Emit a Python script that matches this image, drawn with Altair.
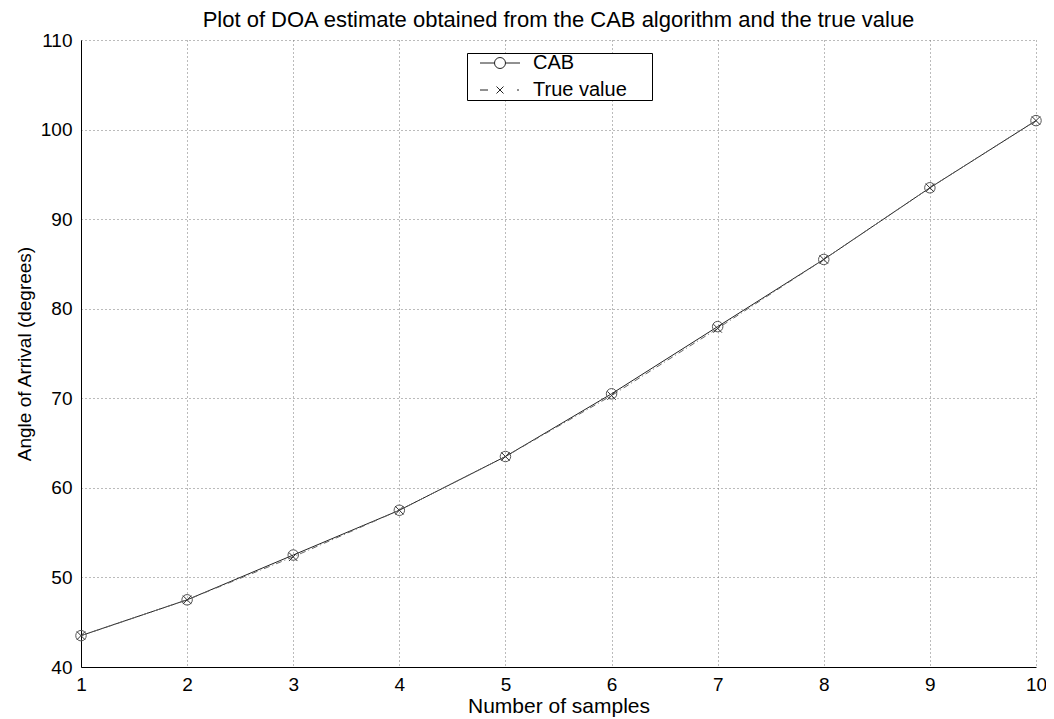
import altair as alt
import pandas as pd

samples = [1, 2, 3, 4, 5, 6, 7, 8, 9, 10]
cab = [43.5, 47.5, 52.5, 57.5, 63.5, 70.5, 78.0, 85.5, 93.5, 101.0]
true_value = [43.5, 47.5, 52.3, 57.5, 63.5, 70.3, 77.8, 85.5, 93.5, 101.0]
series_names = ["CAB", "True value"]
y_ticks = [40, 50, 60, 70, 80, 90, 100, 110]

df = pd.DataFrame({
    "x": samples * 2,
    "y": cab + true_value,
    "series": [series_names[0]] * len(samples) + [series_names[1]] * len(samples),
})

FONT = "Liberation Sans"

x_enc = alt.X("x:Q", scale=alt.Scale(domain=[1, 10], nice=False, zero=False),
              axis=alt.Axis(values=samples, title="Number of samples", format="d",
                            labelFlush=False))
y_enc = alt.Y("y:Q", scale=alt.Scale(domain=[40, 110], nice=False, zero=False),
              axis=alt.Axis(values=y_ticks, title="Angle of Arrival (degrees)", format="d",
                            labelFlush=False))

base = alt.Chart(df).encode(x=x_enc, y=y_enc)

cab_line = base.transform_filter(alt.datum.series == "CAB").mark_line(
    color="#222222", strokeWidth=1)
true_line = base.transform_filter(alt.datum.series == "True value").mark_line(
    color="#666666", strokeWidth=1, strokeDash=[6, 3, 1, 3])
cab_pts = base.transform_filter(alt.datum.series == "CAB").mark_point(
    shape="circle", size=110, color="#555555", filled=False, strokeWidth=1, opacity=1)
true_pts = base.transform_filter(alt.datum.series == "True value").mark_point(
    shape="M-1,-1L1,1M-1,1L1,-1", size=72, color="#333333", filled=False, strokeWidth=1, opacity=1)

# legend glyphs (line + marker); trailing move-to widens the legend frame
path_cab = ("M-4,0L-1.1,0M1.1,0L4,0"
            "M-1.1,0A1.1,1.1,0,1,1,1.1,0A1.1,1.1,0,1,1,-1.1,0"
            "M30,0")
path_true = ("M-4,0L-2.4,0"
             "M-0.7,-0.7L0.7,0.7M-0.7,0.7L0.7,-0.7"
             "M3.4,0L3.8,0"
             "M30,0")

legend_layer = base.transform_filter("false").mark_point(
    filled=False, color="black", strokeWidth=1, opacity=1).encode(
    shape=alt.Shape("series:N",
                    scale=alt.Scale(domain=series_names, range=[path_cab, path_true]),
                    legend=alt.Legend(
                        title=None, orient="none", legendX=386, legendY=13,
                        strokeColor="black", fillColor="white", padding=0,
                        symbolSize=100, symbolStrokeWidth=1, symbolStrokeColor="#222222",
                        symbolFillColor="transparent", symbolOffset=23,
                        labelFont=FONT, labelFontSize=20, labelColor="black",
                        labelOffset=23, rowPadding=7,
                    )))

chart = alt.layer(cab_line, true_line, cab_pts, true_pts, legend_layer).properties(
    width=955, height=627,
    title=alt.TitleParams(
        "Plot of DOA estimate obtained from the CAB algorithm and the true value",
        font=FONT, fontSize=22, fontWeight="normal", color="black",
        anchor="middle", baseline="alphabetic", offset=14, dy=32),
    autosize=alt.AutoSizeParams(type="none"),
    padding={"left": 73, "top": 32, "right": 10, "bottom": 51},
).configure_view(stroke=None).configure_axis(
    labelFont=FONT, labelFontSize=19, labelColor="black",
    titleFont=FONT, titleFontWeight="normal", titleColor="black",
    domainColor="black", domainWidth=1, ticks=False,
    grid=True, gridColor="#777777", gridDash=[1, 3], gridWidth=1, gridOpacity=1,
).configure_axisX(labelPadding=8, titlePadding=1, titleFontSize=21).configure_axisY(
    labelPadding=9, titlePadding=6, titleFontSize=19)

chart.save("out.html", embed_options={"renderer": "svg", "actions": False})
